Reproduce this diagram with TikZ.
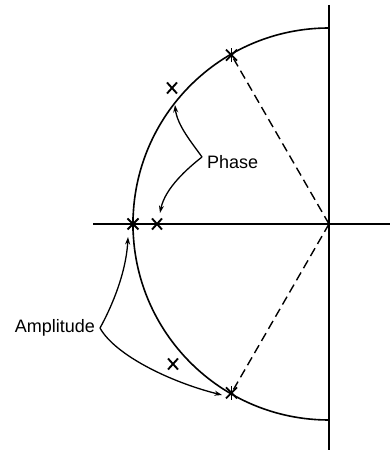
\documentclass[tikz,border=0pt]{standalone}
\usepackage{fontspec}
\setmainfont{Liberation Sans}
\usetikzlibrary{arrows.meta,calc}
\begin{document}
\begin{tikzpicture}[x=1pt,y=1pt,
  axis/.style={line width=1.7pt},
  circ/.style={line width=1.6pt},
  dashline/.style={line width=1.4pt,dash pattern=on 9pt off 5pt},
  lead/.style={line width=1.3pt,-{Stealth[length=7.5pt,width=5pt]}},
  lbl/.style={inner sep=0pt,font=\fontsize{18}{20}\selectfont},
  xmark/.style={line width=1.9pt}]
\useasboundingbox (0,0) rectangle (391,453);
% axes
\coordinate (O) at (329,229);
\coordinate (vtop) at (329,448);
\coordinate (vbot) at (329,3);
\coordinate (hl) at (93,229);
\coordinate (hr) at (390,229);
\draw[axis] (vtop) -- (vbot);
\draw[axis] (hl) -- (hr);
% semicircle
\coordinate (ctop) at (329,425);
\draw[circ] (ctop) arc[start angle=90,end angle=270,radius=196];
% star points
\coordinate (s1) at ($(O)+(120:195)$);
\coordinate (s2) at (133,229);
\coordinate (s3) at ($(O)+(240:195)$);
\foreach \p in {s1,s2,s3}{
  \draw[xmark] ($(\p)+(0,-7)$) -- ($(\p)+(0,7)$);
  \draw[xmark] ($(\p)+(-5.5,-5.5)$) -- ($(\p)+(5.5,5.5)$);
  \draw[xmark] ($(\p)+(-5.5,5.5)$) -- ($(\p)+(5.5,-5.5)$);
}
% x marks
\coordinate (x1) at (172,365);
\coordinate (x2) at (157,229);
\coordinate (x3) at (173,89);
\foreach \p in {x1,x2,x3}{
  \draw[xmark] ($(\p)+(-5,-5.5)$) -- ($(\p)+(5,5.5)$);
  \draw[xmark] ($(\p)+(-5,5.5)$) -- ($(\p)+(5,-5.5)$);
}
% dashed radii
\draw[dashline] (O) -- (s1);
\draw[dashline] (O) -- (s3);
% labels
\node[lbl,anchor=west] (phase) at (207,291) {Phase};
\node[lbl,anchor=east] (amp) at (95,125) {Amplitude};
\coordinate (ptip) at (202,296);
\coordinate (atip) at (100,125);
\coordinate (pa) at (175,348);
\coordinate (pb) at (160,240);
\coordinate (aa) at (128,216);
\coordinate (ab) at (222,58);
% leaders
\draw[lead] (ptip) .. controls (192,310) and (177,328) .. (pa);
\draw[lead] (ptip) .. controls (188,285) and (165,265) .. (pb);
\draw[lead] (atip) .. controls (110,143) and (126,178) .. (aa);
\draw[lead] (atip) .. controls (115,98) and (170,71) .. (ab);
\end{tikzpicture}
\end{document}
